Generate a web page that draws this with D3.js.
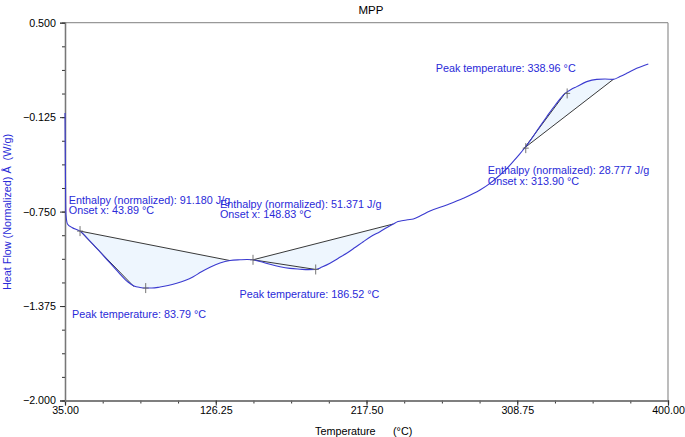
<!DOCTYPE html>
<html><head><meta charset="utf-8">
<script src="https://cdn.jsdelivr.net/npm/d3@7"></script>
<style>
html,body{margin:0;padding:0;background:#fff;}
svg{display:block;font-family:"Liberation Sans",Arial,sans-serif;}
</style></head>
<body>
<svg id="c" width="685" height="437"></svg>
<script>
// ---- data ----
const title = "MPP";
const xTicks = [35.00, 126.25, 217.50, 308.75, 400.00];
const yTicks = [0.500, -0.125, -0.750, -1.375, -2.000];
const temperature = [35.0,35.2,35.4,35.6,36.5,39.2,44.1,50.13,56.19,62.24,68.29,73.13,76.77,80.40,83.85,87.66,92.50,97.34,102.61,107.64,112.66,117.32,122.77,128.82,134.88,140.93,145.17,148.80,153.03,159.09,165.14,171.19,177.25,182.09,186.75,190.56,195.40,200.25,205.51,210.54,215.56,220.22,225.67,229.91,233.72,236.56,239.77,242.62,245.83,249.88,255.93,266.04,276.09,286.20,292.25,298.31,301.94,306.36,309.81,313.44,316.47,320.52,326.58,332.21,337.66,341.29,344.74,350.79,356.85,361.87,366.89,370.95,375.00,381.06,388.08];
const heatFlow = [-0.098,-0.409,-0.673,-0.773,-0.832,-0.855,-0.879,-0.945,-1.017,-1.090,-1.163,-1.216,-1.242,-1.252,-1.256,-1.256,-1.249,-1.239,-1.224,-1.206,-1.181,-1.150,-1.118,-1.090,-1.074,-1.069,-1.067,-1.069,-1.080,-1.099,-1.115,-1.126,-1.131,-1.134,-1.133,-1.117,-1.092,-1.060,-1.026,-0.988,-0.949,-0.915,-0.883,-0.855,-0.832,-0.816,-0.809,-0.804,-0.799,-0.779,-0.746,-0.706,-0.662,-0.607,-0.563,-0.508,-0.471,-0.418,-0.375,-0.326,-0.283,-0.217,-0.122,-0.038,0.032,0.058,0.077,0.110,0.125,0.127,0.125,0.144,0.165,0.198,0.227];
// integration baselines [T0, v0, T1, v1]
const baselines = [[44.1,-0.879,134.88,-1.074],[148.80,-1.069,233.72,-0.832],[313.44,-0.326,366.89,0.125]];
// tangent lines [T0, v0, T1, v1]
const tangents = [[44.1,-0.879,76.77,-1.247],[148.80,-1.069,186.75,-1.133],[312.23,-0.342,337.66,0.032]];
// marker crosses [T, v]
const markers = [[44.1,-0.879],[83.85,-1.256],[148.80,-1.069],[186.75,-1.133],[313.9,-0.330],[338.96,0.032]];
const annotations = [
  {text:"Enthalpy (normalized): 91.180 J/g", T:37.3, v:-0.700},
  {text:"Onset x: 43.89 °C", T:37.3, v:-0.768},
  {text:"Enthalpy (normalized): 51.371 J/g", T:128.8, v:-0.728},
  {text:"Onset x: 148.83 °C", T:128.8, v:-0.794},
  {text:"Peak temperature: 83.79 °C", T:39.3, v:-1.451},
  {text:"Peak temperature: 186.52 °C", T:140.6, v:-1.319},
  {text:"Peak temperature: 338.96 °C", T:259.4, v:0.171},
  {text:"Enthalpy (normalized): 28.777 J/g", T:290.9, v:-0.501},
  {text:"Onset x: 313.90 °C", T:290.9, v:-0.574}
];
// ---- chart ----
const svg = d3.select("#c");
const x = d3.scaleLinear().domain([35,400]).range([65,668]);
const y = d3.scaleLinear().domain([-2,0.5]).range([400.5,22.7]);
const pts = temperature.map((t,i)=>({t, v:heatFlow[i]}));

// frame (top, right)
svg.append("line").attr("x1",x(35)).attr("x2",x(400)).attr("y1",y(0.5)).attr("y2",y(0.5)).attr("stroke","#999").attr("stroke-width",1.3);
svg.append("line").attr("x1",x(400)).attr("x2",x(400)).attr("y1",y(0.5)).attr("y2",y(-2)).attr("stroke","#999").attr("stroke-width",1.3);

// fills
baselines.forEach(b=>{
  const seg = pts.filter(p=>p.t>=b[0]-1e-9 && p.t<=b[2]+1e-9);
  const base = t => b[1] + (b[3]-b[1])*(t-b[0])/(b[2]-b[0]);
  svg.append("path").datum(seg)
    .attr("d", d3.area().x(d=>x(d.t)).y0(d=>y(base(d.t))).y1(d=>y(d.v)).curve(d3.curveMonotoneX))
    .attr("fill","#eef6fe").attr("stroke","none");
});

// axes
const gx = svg.append("g").attr("transform",`translate(0,${y(-2)})`);
gx.call(d3.axisBottom(x).tickValues(d3.range(0,17).map(i=>35+i*22.8125)).tickSize(3).tickFormat(""));
gx.call(g=>g.append("g").call(d3.axisBottom(x).tickValues(xTicks).tickSize(5).tickFormat(d3.format(".2f"))));
const gy = svg.append("g").attr("transform",`translate(${x(35)},0)`);
gy.call(d3.axisLeft(y).tickValues(d3.range(0,17).map(i=>-2+i*0.15625)).tickSize(3).tickFormat(""));
gy.call(g=>g.append("g").call(d3.axisLeft(y).tickValues(yTicks).tickSize(5).tickFormat(d3.format(".3f"))));
svg.selectAll(".domain").attr("stroke","#777").attr("stroke-width",1.3);
svg.selectAll(".tick line").attr("stroke","#333");
svg.selectAll(".tick text").attr("font-size","10.7px").attr("fill","#000").attr("font-family","Liberation Sans, Arial, sans-serif");
gx.selectAll(".tick text").attr("dy","0.55em");
gy.selectAll(".tick text").attr("dx","-0.1em");

// baselines + tangents
baselines.concat(tangents).forEach(b=>{
  svg.append("line").attr("x1",x(b[0])).attr("y1",y(b[1])).attr("x2",x(b[2])).attr("y2",y(b[3]))
    .attr("stroke","#222").attr("stroke-width",0.9);
});

// curve
svg.append("path").datum(pts)
  .attr("d", d3.line().x(d=>x(d.t)).y(d=>y(d.v)).curve(d3.curveMonotoneX))
  .attr("fill","none").attr("stroke","#3a3ad0").attr("stroke-width",1.1);

// markers
markers.forEach(m=>{
  const cx=x(m[0]), cy=y(m[1]);
  svg.append("line").attr("x1",cx).attr("x2",cx).attr("y1",cy-5).attr("y2",cy+5).attr("stroke","#666").attr("stroke-width",0.9);
  svg.append("line").attr("x1",cx-3).attr("x2",cx+3).attr("y1",cy).attr("y2",cy).attr("stroke","#666").attr("stroke-width",0.9);
});

// annotations
annotations.forEach(a=>{
  svg.append("text").attr("x",x(a.T)).attr("y",y(a.v)).text(a.text)
    .attr("font-size","10.8px").attr("fill","#2a2ad8");
});

// title & labels
svg.append("text").attr("x",371).attr("y",14).attr("text-anchor","middle").attr("font-size","11.5px").attr("fill","#000").text(title);
svg.append("text").attr("x",315).attr("y",435).attr("font-size","10.8px").attr("fill","#000").text("Temperature");
svg.append("text").attr("x",393).attr("y",435).attr("font-size","10.8px").attr("fill","#000").text("(°C)");
svg.append("text").attr("transform","translate(11,212) rotate(-90)").attr("text-anchor","middle")
  .attr("font-size","10.8px").attr("fill","#2a2ad8").attr("xml:space","preserve").text("Heat Flow (Normalized) Å  (W/g)");
</script>
</body></html>
